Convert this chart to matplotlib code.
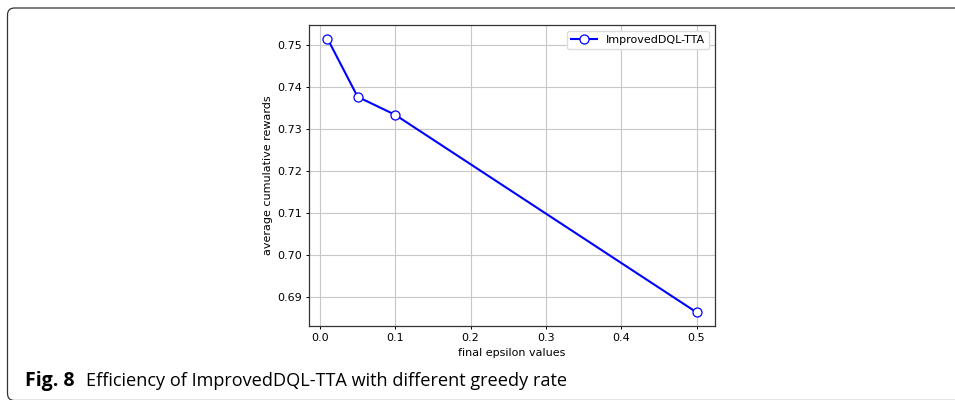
import matplotlib.pyplot as plt
from matplotlib.path import Path
from matplotlib.patches import PathPatch

epsilon = [0.01, 0.05, 0.1, 0.5]
rewards = [0.7514, 0.7376, 0.7333, 0.6864]
label = "ImprovedDQL-TTA"
caption_bold = "Fig. 8"
caption_text = "Efficiency of ImprovedDQL-TTA with different greedy rate"

fig = plt.figure(figsize=(9.55, 4.0), dpi=100)
ax = fig.add_axes([0.3236, 0.185, 0.4251, 0.7525])

ax.plot(epsilon, rewards, color="blue", linewidth=1.5, marker="o",
        markersize=6.5, markerfacecolor="white", markeredgecolor="blue",
        markeredgewidth=0.9, label=label)
ax.grid(True, color="#c8c8c8", linewidth=0.8)
ax.tick_params(labelsize=8, length=2.5, width=0.7, pad=2.5)
ax.set_xlabel("final epsilon values", fontsize=8, labelpad=3.5)
ax.set_ylabel("average cumulative rewards", fontsize=8, labelpad=3)
for s in ax.spines.values():
    s.set_linewidth(0.9)
    s.set_color("#333333")
ax.legend(loc="upper right", fontsize=8, framealpha=1, edgecolor="#dddddd",
          handlelength=2.3, borderpad=0.4)

# open frame: top and left edges with rounded corners (inches)
x0, top, bot, r, right = 0.075, 3.92, -0.005, 0.07, 10.0
verts = [(right, top), (x0 + r, top), (x0, top), (x0, top - r),
         (x0, bot + r), (x0, bot), (x0 + r, bot), (right, bot)]
codes = [Path.MOVETO, Path.LINETO, Path.CURVE3, Path.CURVE3,
         Path.LINETO, Path.CURVE3, Path.CURVE3, Path.LINETO]
frame = PathPatch(Path(verts, codes), transform=fig.dpi_scale_trans,
                  fill=False, edgecolor="#333333", linewidth=0.9)
fig.patches.append(frame)

fig.text(0.026, 0.034, caption_bold, fontsize=14, fontweight="bold",
         family="Open Sans", va="baseline")
fig.text(0.09, 0.034, caption_text, fontsize=13.1, family="Open Sans",
         va="baseline")

fig.savefig("out.png", dpi=100)
